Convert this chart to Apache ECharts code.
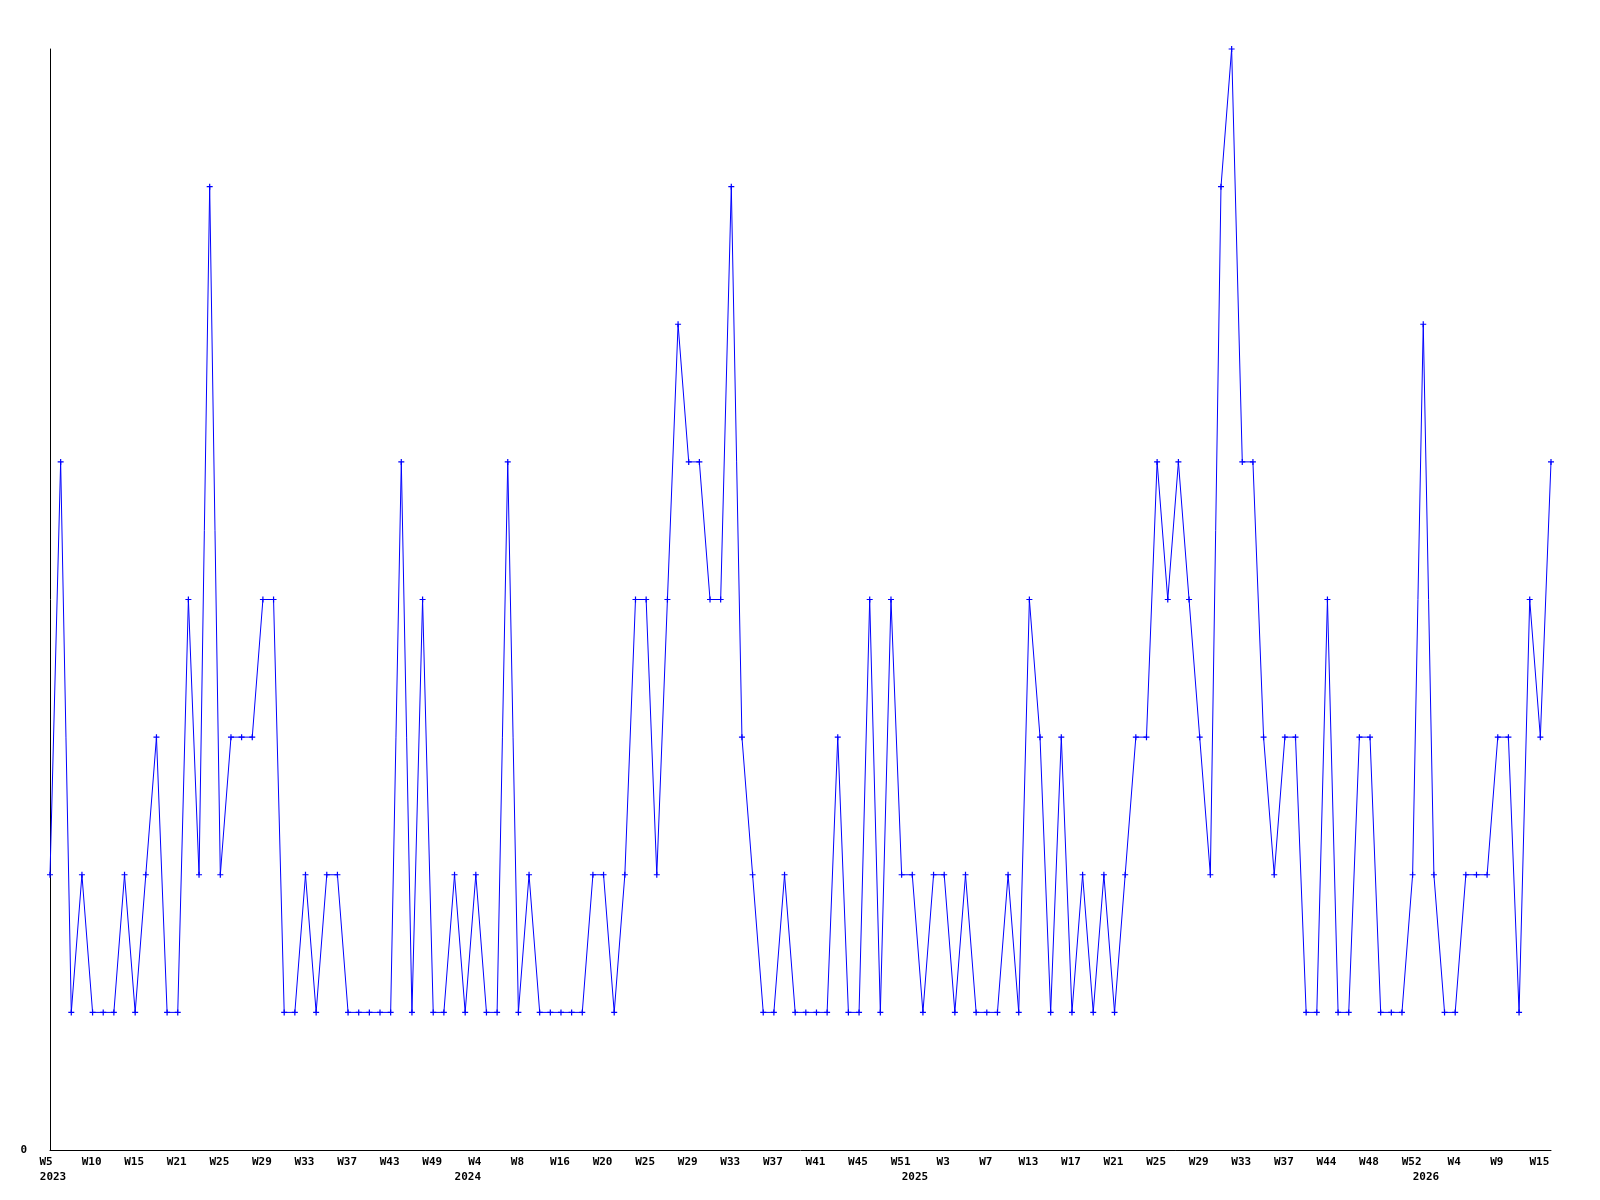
<!DOCTYPE html>
<html>
<head>
<meta charset="utf-8">
<script src="https://cdn.jsdelivr.net/npm/echarts@6/dist/echarts.min.js"></script>
<style>
  html, body { margin: 0; padding: 0; background: #ffffff; }
  #chart { width: 1600px; height: 1200px; }
</style>
</head>
<body>
<div id="chart"></div>
<script>
// Weekly counts (weeks with zero entries are absent from the series)
const values = [
  2,5,1,2,1,1,1,2,1,2,3,1,1,4,2,7,2,3,3,3,4,4,1,1,
  2,1,2,2,1,1,1,1,1,5,1,4,1,1,2,1,2,1,1,5,1,2,1,1,
  1,1,1,2,2,1,2,4,4,2,4,6,5,5,4,4,7,3,2,1,1,2,1,
  1,1,1,3,1,1,4,1,4,2,2,1,2,2,1,2,1,1,1,2,1,4,3,1,
  3,1,2,1,2,1,2,3,3,5,4,5,4,3,2,7,8,5,5,3,2,3,3,
  1,1,4,1,1,3,3,1,1,1,2,6,2,1,1,2,2,2,3,3,1,4,3,5
];

// Week tick labels, shown on every 4th point
const weekTickLabels = [
  'W5','W10','W15','W21','W25','W29','W33','W37','W43','W49',
  'W4','W8','W16','W20','W25','W29','W33','W37','W41','W45',
  'W51','W3','W7','W13','W17','W21','W25','W29','W33','W37',
  'W44','W48','W52','W4','W9','W15'
];
const tickStep = 4;

// Year labels and the point index they sit under
const yearLabels = ['2023', '2024', '2025', '2026'];
const yearPointIndex = [0, 40, 82, 130];

const categories = values.map((v, i) =>
  (i % tickStep === 0 && weekTickLabels[i / tickStep]) ? weekTickLabels[i / tickStep] : ('p' + i));

const yMin = 0, yMax = 8;

const labelFont = {
  fontFamily: 'DejaVu Sans Mono',
  fontWeight: 'bold',
  fontSize: 11,
  color: '#000000'
};

const chart = echarts.init(document.getElementById('chart'), null, { renderer: 'canvas' });
chart.setOption({
  animation: false,
  backgroundColor: '#ffffff',
  grid: { left: 50, right: 49, top: 49, bottom: 50, containLabel: false },
  xAxis: [
    {
      type: 'category',
      data: categories,
      boundaryGap: false,
      position: 'bottom',
      axisLine: { show: true, lineStyle: { color: '#000000', width: 1 } },
      axisTick: { show: false },
      splitLine: { show: false },
      axisLabel: Object.assign({}, labelFont, {
        interval: tickStep - 1,
        margin: 7,
        formatter: (val, idx) => {
          if (idx % tickStep !== 0) return '';
          const t = weekTickLabels[idx / tickStep] || '';
          return idx === 0 ? '{first|' + t + '}' : '{w|' + t + '}';
        },
        rich: {
          w: Object.assign({}, labelFont, { padding: [0, 2, 0, 0] }),
          first: Object.assign({}, labelFont, { padding: [0, 8, 0, 0] })
        }
      })
    },
    {
      type: 'category',
      data: categories,
      boundaryGap: false,
      position: 'bottom',
      offset: 15,
      axisLine: { show: false },
      axisTick: { show: false },
      splitLine: { show: false },
      axisLabel: Object.assign({}, labelFont, {
        interval: 0,
        margin: 7,
        formatter: (val, idx) => {
          const k = yearPointIndex.indexOf(idx);
          if (k < 0) return '';
          return k === 0 ? '{first|' + yearLabels[k] + '}' : '{y|' + yearLabels[k] + '}';
        },
        rich: {
          y: Object.assign({}, labelFont, { padding: [0, 16, 0, 0] }),
          first: Object.assign({}, labelFont, { padding: [0, 0, 0, 6] })
        }
      })
    }
  ],
  yAxis: {
    type: 'value',
    min: yMin,
    max: yMax,
    interval: 1,
    axisLine: { show: true, lineStyle: { color: '#000000', width: 1 } },
    axisTick: { show: false },
    splitLine: { show: false },
    axisLabel: Object.assign({}, labelFont, {
      margin: 23,
      formatter: v => (v === 0 ? '0' : '')
    })
  },
  series: [{
    type: 'line',
    xAxisIndex: 0,
    data: values,
    symbol: 'path://M2,0H3V2H5V3H3V5H2V3H0V2H2Z',
    symbolSize: 6,
    showAllSymbol: true,
    itemStyle: { color: '#0000ff' },
    lineStyle: { color: '#0000ff', width: 1 },
    emphasis: { disabled: true }
  }]
});
</script>
</body>
</html>
